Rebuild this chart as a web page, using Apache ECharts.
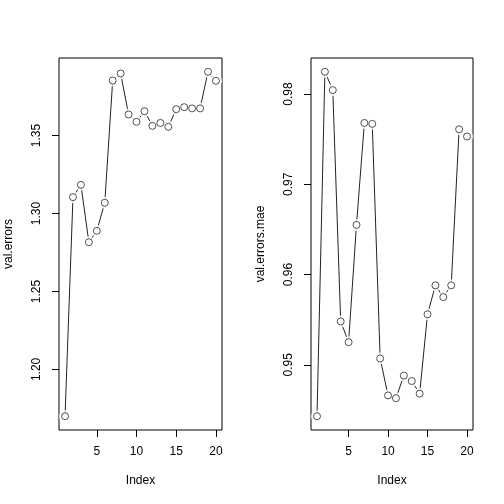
<!DOCTYPE html>
<html>
<head>
<meta charset="utf-8">
<script src="https://cdn.jsdelivr.net/npm/echarts@6/dist/echarts.min.js"></script>
<style>
  html, body { margin: 0; padding: 0; background: #fff; }
  #chart { width: 504px; height: 504px; }
</style>
</head>
<body>
<div id="chart"></div>
<script>
const idx = [1, 2, 3, 4, 5, 6, 7, 8, 9, 10, 11, 12, 13, 14, 15, 16, 17, 18, 19, 20]
const valErrors = [1.1700, 1.3105, 1.3184, 1.2816, 1.2889, 1.3069, 1.3853, 1.3898, 1.3635, 1.3588,
  1.3656, 1.3562, 1.3581, 1.3556, 1.3669, 1.3682, 1.3674, 1.3674, 1.3909, 1.3851]
const valErrorsMae = [0.9443, 0.98247, 0.98044, 0.9548, 0.9525, 0.9655, 0.9768, 0.9767, 0.9507, 0.9466,
  0.9463, 0.9488, 0.9482, 0.9468, 0.9556, 0.9588, 0.9575, 0.9588, 0.9761, 0.9753]
const xTicks = [5, 10, 15, 20]
const leftTicks = [1.20, 1.25, 1.30, 1.35]
const rightTicks = [0.95, 0.96, 0.97, 0.98]

const FONT = 'Liberation Sans, Arial, sans-serif'

// R pads the data range by 4% on each side
function pad(arr) {
  const lo = Math.min(...arr), hi = Math.max(...arr)
  const d = (hi - lo) * 0.04
  return [lo - d, hi + d]
}

function xAxis(gridIndex) {
  const [min, max] = pad(idx)
  return {
    type: 'value', gridIndex, min, max,
    name: 'Index', nameLocation: 'middle', nameGap: 45,
    nameTextStyle: { color: '#000', fontSize: 12, fontFamily: FONT },
    splitLine: { show: false },
    axisLine: { show: false },
    axisTick: { show: true, length: 7, customValues: xTicks, lineStyle: { color: '#000' } },
    axisLabel: { customValues: xTicks, color: '#000', fontSize: 12, fontFamily: FONT, margin: 16 }
  }
}

function yAxis(gridIndex, data, ticks, name, digits) {
  const [min, max] = pad(data)
  return {
    type: 'value', gridIndex, min, max,
    name, nameLocation: 'middle', nameGap: 44,
    nameTextStyle: { color: '#000', fontSize: 12, fontFamily: FONT },
    splitLine: { show: false },
    axisLine: { show: false },
    axisTick: { show: true, length: 7, customValues: ticks, lineStyle: { color: '#000' } },
    axisLabel: {
      customValues: ticks, rotate: 90, color: '#000', fontSize: 12, fontFamily: FONT, margin: 16,
      formatter: (v) => v.toFixed(digits)
    }
  }
}

function seriesFor(i, vals) {
  const pts = idx.map((x, k) => [x, vals[k]])
  return [
    {
      type: 'line', xAxisIndex: i, yAxisIndex: i, data: pts, showSymbol: false,
      lineStyle: { color: '#222', width: 1 }, z: 1, silent: true
    },
    {
      // white halo so segments stop short of the points, like type = "b"
      type: 'scatter', xAxisIndex: i, yAxisIndex: i, data: pts, symbol: 'circle', symbolSize: 12,
      itemStyle: { color: '#fff' }, z: 2, silent: true
    },
    {
      type: 'scatter', xAxisIndex: i, yAxisIndex: i, data: pts, symbol: 'circle', symbolSize: 7,
      itemStyle: { color: '#fff', borderColor: '#111', borderWidth: 0.9 }, z: 3, silent: true
    }
  ]
}

const chart = echarts.init(document.getElementById('chart'))
chart.setOption({
  animation: false,
  backgroundColor: '#fff',
  grid: [
    { left: 59, right: 282, top: 58, bottom: 74, show: true, borderColor: '#000', borderWidth: 1 },
    { left: 311, right: 31, top: 58, bottom: 74, show: true, borderColor: '#000', borderWidth: 1 }
  ],
  xAxis: [xAxis(0), xAxis(1)],
  yAxis: [
    yAxis(0, valErrors, leftTicks, 'val.errors', 2),
    yAxis(1, valErrorsMae, rightTicks, 'val.errors.mae', 2)
  ],
  series: [...seriesFor(0, valErrors), ...seriesFor(1, valErrorsMae)]
})
</script>
</body>
</html>
